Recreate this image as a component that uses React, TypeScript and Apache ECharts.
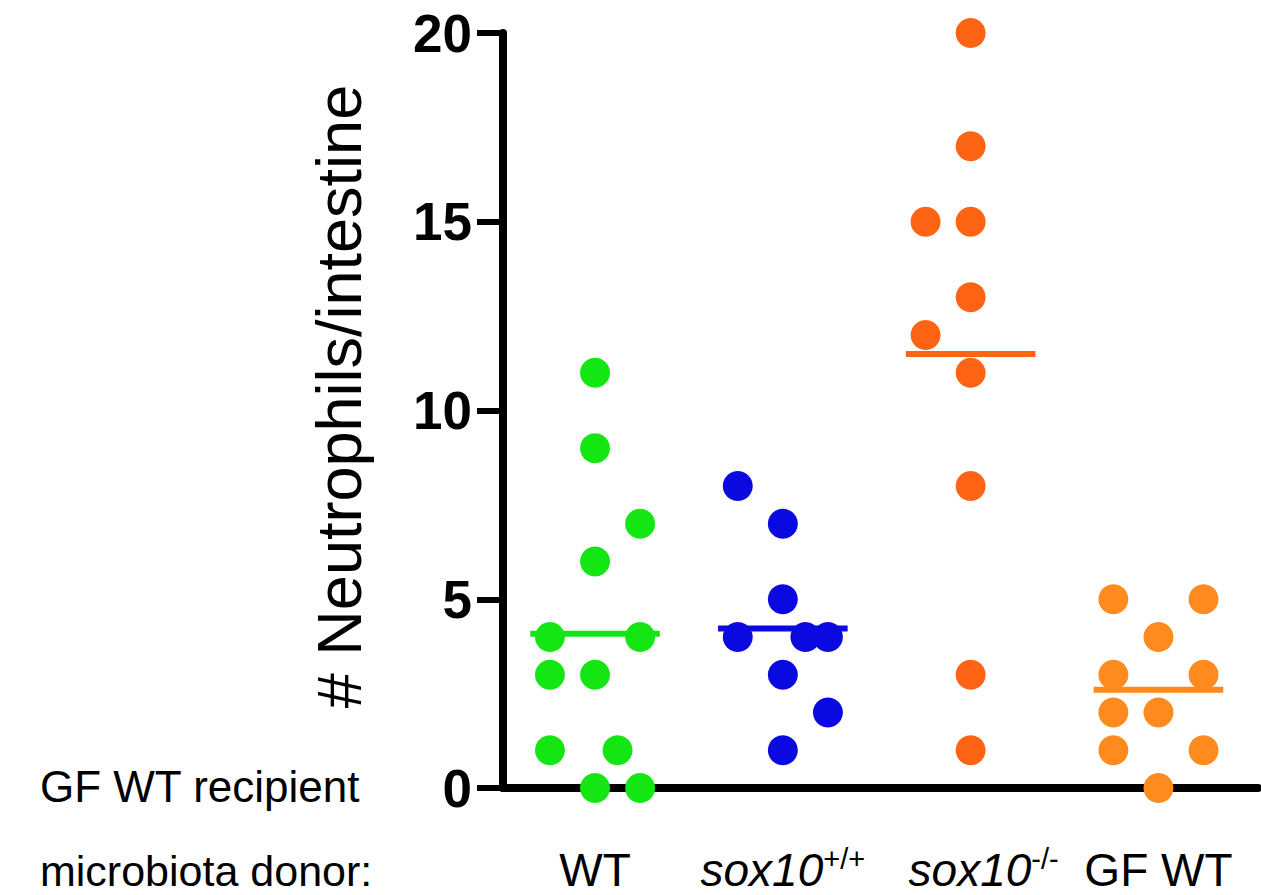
import React, { useEffect, useRef } from "react";
import * as echarts from "echarts";

// ---- data ----
const categoryMain = ["WT", "sox10", "sox10", "GF WT"];
const categorySup = ["", "+/+", "-/-", ""];
const categoryItalic = [false, true, true, false];
const categoryColors = ["#14e614", "#0a0ae0", "#ff6414", "#ff8a1e"];

const wtValues = [11, 9, 7, 6, 4, 4, 3, 3, 1, 1, 0, 0];
const wtSlots = [0, 0, 2, 0, -2, 2, -2, 0, -2, 1, 0, 2];
const sox10WtValues = [8, 7, 5, 4, 4, 4, 3, 2, 1];
const sox10WtSlots = [-2, 0, 0, -2, 1, 2, 0, 2, 0];
const sox10MutValues = [20, 17, 15, 15, 13, 12, 11, 8, 3, 1];
const sox10MutSlots = [0, 0, -2, 0, 0, -2, 0, 0, 0, 0];
const gfWtValues = [5, 5, 4, 3, 3, 2, 2, 1, 1, 0];
const gfWtSlots = [-2, 2, 0, -2, 2, -2, 0, -2, 2, 0];

const yTicks = [0, 5, 10, 15, 20];
const yAxisName = "# Neutrophils/intestine";
const recipientLabel = "GF WT recipient";
const donorLabel = "microbiota donor:";

const groups = [
  { values: wtValues, slots: wtSlots },
  { values: sox10WtValues, slots: sox10WtSlots },
  { values: sox10MutValues, slots: sox10MutSlots },
  { values: gfWtValues, slots: gfWtSlots },
];

const SLOT = 0.12;
const HALF_MEAN = 0.345;
const FONT = "'Liberation Sans', Arial, Helvetica, sans-serif";

export default function App() {
  const ref = useRef<HTMLDivElement>(null);
  useEffect(() => {
    if (!ref.current) return;
    const chart = echarts.init(ref.current, null, { renderer: "svg" });
    const series: any[] = [];
    groups.forEach((g, gi) => {
      const center = gi + 1;
      series.push({
        type: "scatter",
        symbol: "circle",
        symbolSize: 30,
        itemStyle: { color: categoryColors[gi], opacity: 1 },
        z: 3,
        data: g.values.map((v, i) => [center + g.slots[i] * SLOT, v]),
      });
      const mean = g.values.reduce((a, b) => a + b, 0) / g.values.length;
      series.push({
        type: "line",
        symbol: "none",
        lineStyle: { color: categoryColors[gi], width: 6 },
        z: 4,
        data: [
          [center - HALF_MEAN, mean],
          [center + HALF_MEAN, mean],
        ],
      });
    });

    chart.setOption({
      animation: false,
      backgroundColor: "#ffffff",
      textStyle: { fontFamily: FONT },
      grid: { left: 503, right: 3, top: 33, bottom: 107, containLabel: false },
      xAxis: {
        type: "value",
        min: 0.51,
        max: 4.53,
        splitLine: { show: false },
        axisTick: { show: false },
        axisLine: { show: true, onZero: false, lineStyle: { color: "#000", width: 8 } },
        axisLabel: {
          show: true,
          customValues: [1, 2, 3, 4],
          margin: 56,
          formatter: (v: number) => {
            const i = Math.round(v) - 1;
            const main = categoryMain[i];
            const sup = categorySup[i];
            if (categoryItalic[i]) {
              const key = i === 2 ? "it2" : "it";
              return "{" + key + "|" + main + "}" + (sup ? "{sup|" + sup + "}" : "");
            }
            return "{n|" + main + "}";
          },
          rich: {
            n: { fontSize: 46, fontFamily: FONT, color: "#000", lineHeight: 52 },
            it: { fontSize: 46, fontFamily: FONT, fontStyle: "italic", color: "#000", lineHeight: 52 },
            it2: { fontSize: 46, fontFamily: FONT, fontStyle: "italic", color: "#000", lineHeight: 52, padding: [0, 0, 0, 26] },
            sup: { fontSize: 29, fontFamily: FONT, color: "#000", lineHeight: 52, verticalAlign: "top", padding: [0, 0, 16, 0] },
          },
        },
      },
      yAxis: {
        type: "value",
        min: yTicks[0],
        max: yTicks[yTicks.length - 1],
        interval: 5,
        splitLine: { show: false },
        axisLine: { show: true, lineStyle: { color: "#000", width: 8 } },
        axisTick: { show: true, length: 26, lineStyle: { color: "#000", width: 6 } },
        axisLabel: { fontSize: 53, fontWeight: "bold", color: "#000", margin: 31, fontFamily: FONT },
        name: yAxisName,
        nameLocation: "middle",
        nameRotate: 90,
        nameGap: 133,
        nameTextStyle: { fontSize: 63, color: "#000", fontFamily: FONT, padding: [0, 0, 0, 28] },
      },
      graphic: [
        {
          type: "text",
          left: 40,
          top: 764,
          style: { text: recipientLabel, font: "44px " + FONT, fill: "#000" },
        },
        {
          type: "text",
          left: 40,
          top: 849,
          style: { text: donorLabel, font: "43px " + FONT, fill: "#000" },
        },
      ],
      series,
    });
    return () => chart.dispose();
  }, []);
  return (
    <div
      ref={ref}
      style={{ position: "fixed", left: 0, top: 0, width: 1261, height: 895 }}
    />
  );
}
